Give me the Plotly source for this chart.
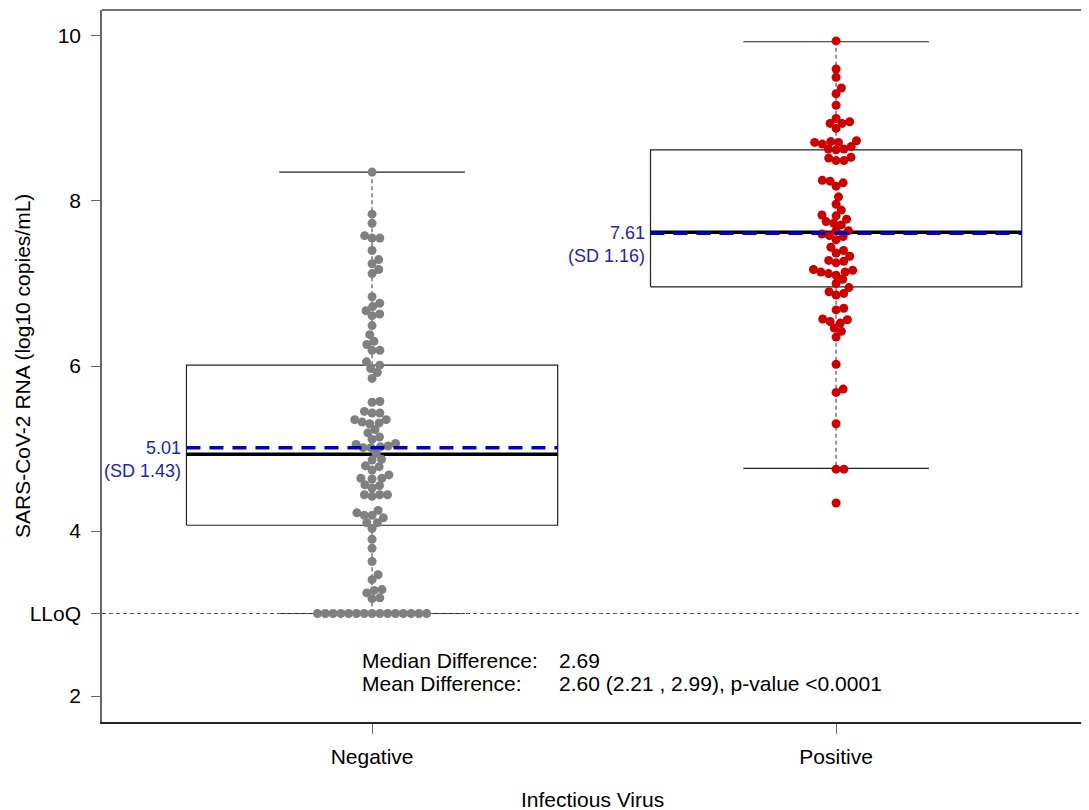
import math
import plotly.graph_objects as go

# groups and box statistics (log10 copies/mL)
groups = ["Negative", "Positive"]
q1 = [4.07, 6.96]
medians = [4.93, 7.62]
q3 = [6.01, 8.62]
whisk_lo = [3.0, 4.76]
whisk_hi = [8.35, 9.93]
means = [5.01, 7.61]
sds = [1.43, 1.16]
lloq = 3.0

neg_vals = [8.35, 7.84, 7.73, 7.58, 7.55, 7.55, 7.40, 7.29, 7.24, 7.17, 7.12,
            6.84, 6.76, 6.72, 6.67, 6.63, 6.61, 6.49, 6.38, 6.30, 6.26, 6.19, 6.19,
            6.05, 6.01, 5.97, 5.92, 5.85,
            5.57, 5.56, 5.45, 5.43, 5.43, 5.35, 5.35, 5.32, 5.31, 5.30,
            5.23, 5.19, 5.14, 5.11,
            5.05, 5.01, 5.01, 5.02, 5.06, 5.03,
            4.94, 4.87, 4.86, 4.79, 4.78, 4.74,
            4.68, 4.64, 4.63, 4.64, 4.56, 4.55, 4.52,
            4.44, 4.44, 4.42, 4.44,
            4.25, 4.22, 4.19, 4.19, 4.16, 4.10, 4.10, 4.03,
            3.90, 3.79, 3.63, 3.47, 3.41,
            3.28, 3.25, 3.29, 3.19, 3.18,
            3.0, 3.0, 3.0, 3.0, 3.0, 3.0, 3.0, 3.0, 3.0, 3.0, 3.0, 3.0, 3.0, 3.0, 3.0]

pos_vals = [9.94, 9.60, 9.50, 9.37, 9.30, 9.16,
            9.00, 8.96, 8.94, 8.94, 8.88,
            8.73, 8.71, 8.69, 8.71, 8.72, 8.66, 8.63, 8.62, 8.63,
            8.53, 8.52, 8.49, 8.49,
            8.25, 8.24, 8.18, 8.22,
            8.05, 7.96, 7.89, 7.83, 7.82,
            7.78, 7.75, 7.73, 7.71,
            7.64, 7.64, 7.60, 7.58, 7.57, 7.53,
            7.44, 7.37, 7.40,
            7.33, 7.28, 7.25, 7.27,
            7.17, 7.14, 7.12, 7.10, 7.14, 7.16,
            7.05, 7.00, 6.95,
            6.90, 6.88, 6.86,
            6.70, 6.68,
            6.57, 6.56, 6.54, 6.52, 6.46, 6.42, 6.35,
            6.02, 5.72, 5.68, 5.30, 4.75, 4.75, 4.34]

point_colors = ["rgb(128,128,128)", "rgb(204,0,0)"]

# page body has an 8px margin, so the figure is made that much smaller
OFF = 8
W, H = 1089 - OFF, 810 - OFF
ml, mr, mt, mb = 102 - OFF, 0, 10 - OFF, 88
xrange_ = [0.418, 2.545]
yrange_ = [1.685, 10.315]
pw, ph = W - ml - mr, H - mt - mb
px_x = pw / (xrange_[1] - xrange_[0])
px_y = ph / (yrange_[1] - yrange_[0])


def px2paper(xp, yp):
    # reference-image pixels -> paper coords
    return (xp - OFF - ml) / pw, (H - mb - (yp - OFF)) / ph


def swarm(vals, d=7.8):
    # simple beeswarm: place each point (low to high) at the free x offset closest to centre
    placed = []
    offs = [0.0] * len(vals)
    for i in sorted(range(len(vals)), key=lambda k: vals[k]):
        yp = vals[i] * px_y
        cands = [0.0]
        for xp, ypp in placed:
            dy = abs(yp - ypp)
            if dy < d:
                dx = math.sqrt(d * d - dy * dy)
                cands += [xp + dx, xp - dx]
        cands.sort(key=lambda c: (abs(c), -c))
        for c in cands:
            if all((c - xp) ** 2 + (yp - ypp) ** 2 >= d * d - 1e-6 for xp, ypp in placed):
                break
        placed.append((c, yp))
        offs[i] = c / px_x
    return offs


fig = go.Figure()
half = 0.4
cap = 0.2
for i, g in enumerate(groups):
    c = i + 1
    # whiskers (dashed)
    fig.add_trace(go.Scatter(x=[c, c, None, c, c], y=[q3[i], whisk_hi[i], None, q1[i], whisk_lo[i]],
                             mode="lines", line=dict(color="#777777", width=1.5, dash="4px,3px"),
                             hoverinfo="skip", showlegend=False))
    # caps
    fig.add_trace(go.Scatter(x=[c - cap, c + cap, None, c - cap, c + cap],
                             y=[whisk_hi[i], whisk_hi[i], None, whisk_lo[i], whisk_lo[i]],
                             mode="lines", line=dict(color="#222222", width=1.2),
                             hoverinfo="skip", showlegend=False))
    # box
    fig.add_trace(go.Scatter(x=[c - half, c + half, c + half, c - half, c - half],
                             y=[q1[i], q1[i], q3[i], q3[i], q1[i]],
                             mode="lines", line=dict(color="#222222", width=1.2),
                             hoverinfo="skip", showlegend=False))
    # median
    fig.add_trace(go.Scatter(x=[c - half, c + half], y=[medians[i], medians[i]],
                             mode="lines", line=dict(color="black", width=3.5),
                             hoverinfo="skip", showlegend=False))

# LLoQ line
fig.add_trace(go.Scatter(x=xrange_, y=[lloq, lloq], mode="lines",
                         line=dict(color="#555555", width=1, dash="4px,3px"),
                         hoverinfo="skip", showlegend=False))

for i, vals in enumerate([neg_vals, pos_vals]):
    c = i + 1
    offs = swarm(vals)
    fig.add_trace(go.Scatter(x=[c + o for o in offs], y=vals, mode="markers",
                             marker=dict(color=point_colors[i], size=9, line=dict(width=0)),
                             name=groups[i], showlegend=False))

for i, g in enumerate(groups):
    c = i + 1
    # mean (dashed blue)
    fig.add_trace(go.Scatter(x=[c - half, c + half], y=[means[i], means[i]],
                             mode="lines", line=dict(color="#0000c8", width=3.5, dash="14px,9px"),
                             hoverinfo="skip", showlegend=False))
    fig.add_annotation(x=c - half, y=means[i], xref="x", yref="y", text=f"{means[i]:.2f}",
                       xanchor="right", yanchor="middle", xshift=-3, showarrow=False,
                       font=dict(size=18, color="#2424a8"))
    fig.add_annotation(x=c - half, y=means[i], xref="x", yref="y", text=f"(SD {sds[i]:.2f})",
                       xanchor="right", yanchor="middle", xshift=-3, yshift=-23, showarrow=False,
                       font=dict(size=18, color="#2424a8"))

# difference text
txt_font = dict(size=21, color="black")
for xp, yp, t in [(360, 660, "Median Difference:"), (557, 660, "2.69"),
                  (360, 683, "Mean Difference:"), (557, 683, "2.60 (2.21 , 2.99), p-value <0.0001")]:
    ax_, ay_ = px2paper(xp, yp)
    fig.add_annotation(x=ax_, y=ay_, xref="paper", yref="paper", text=t,
                       xanchor="left", yanchor="middle", showarrow=False, font=txt_font)

# axis titles
tx, ty = px2paper(22, 366)
fig.add_annotation(x=tx, y=ty, xref="paper", yref="paper",
                   text="SARS-CoV-2 RNA (log10 copies/mL)", textangle=-90, showarrow=False,
                   xanchor="center", yanchor="middle", font=dict(size=21, color="black"))
tx, ty = px2paper(592, 799)
fig.add_annotation(x=tx, y=ty, xref="paper", yref="paper",
                   text="Infectious Virus", showarrow=False, xanchor="center", yanchor="middle",
                   font=dict(size=21, color="black"))

# top frame line
fig.add_shape(type="line", xref="paper", yref="paper", x0=0, x1=1, y0=1, y1=1,
              line=dict(color="#444444", width=1.5))

fig.update_layout(
    width=W, height=H,
    margin=dict(l=ml, r=mr, t=mt, b=mb),
    plot_bgcolor="white", paper_bgcolor="white",
    font=dict(family="Arial, Liberation Sans, sans-serif", color="black"),
    xaxis=dict(range=xrange_, tickvals=[1, 2], ticktext=groups, ticks="outside", ticklen=10,
               tickcolor="#666666", showline=True, linecolor="#222222", linewidth=1.5,
               showgrid=False, zeroline=False, tickfont=dict(size=21), ticklabelstandoff=5),
    yaxis=dict(range=yrange_, tickvals=[2, 3, 4, 6, 8, 10], ticktext=["2", "LLoQ", "4", "6", "8", "10"],
               ticks="outside", ticklen=9, tickcolor="#666666", showline=True, linecolor="#666666",
               linewidth=1.5, showgrid=False, zeroline=False, tickfont=dict(size=21),
               ticklabelstandoff=6),
)

fig.write_html("out.html")
